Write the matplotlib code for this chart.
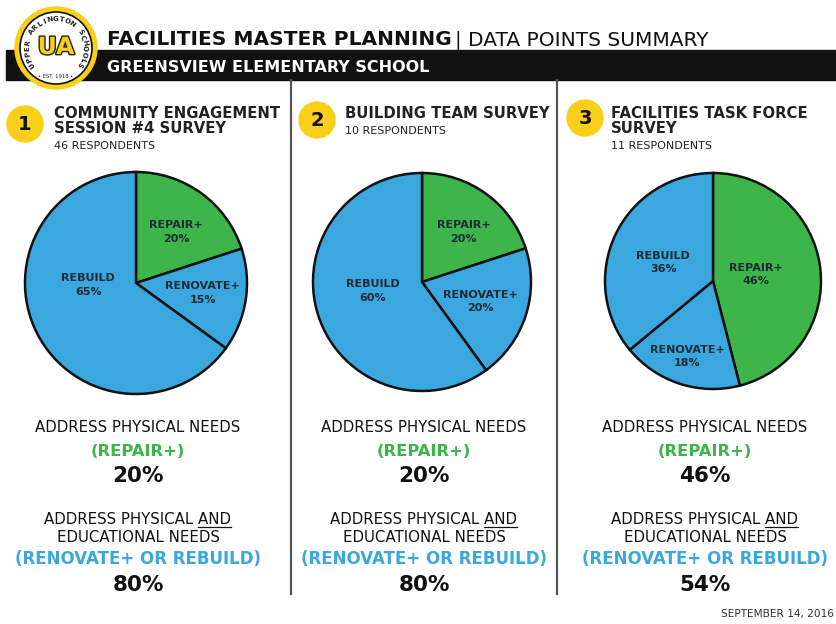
import numpy as np
import matplotlib
matplotlib.use("Agg")
import matplotlib.pyplot as plt
from matplotlib.patches import Circle, Rectangle
import matplotlib.patheffects as pe

##### Data #####
survey_titles = [["COMMUNITY ENGAGEMENT", "SESSION #4 SURVEY"],
                 ["BUILDING TEAM SURVEY"],
                 ["FACILITIES TASK FORCE", "SURVEY"]]
respondents = [46, 10, 11]
categories = ["REPAIR+", "RENOVATE+", "REBUILD"]
shares_1 = [20, 15, 65]
shares_2 = [20, 20, 60]
shares_3 = [46, 18, 36]
all_shares = [shares_1, shares_2, shares_3]
physical_pct = [20, 20, 46]
educational_pct = [80, 80, 54]

##### Layout (pixels of an 837x624 picture) #####
W, H = 837, 624
BLUE = "#3aa8de"
GREEN = "#3db54a"
YELLOW = "#f9cf1a"
NAVY = "#1f2937"
pie_centers = [(136, 283), (422, 282), (713, 281)]
pie_radius = [111, 109, 108]
# label spots inside each pie, in pie units (radius = 1)
label_spots = [[(0.36, 0.46), (0.60, -0.09), (-0.43, -0.02)],
               [(0.38, 0.46), (0.54, -0.18), (-0.45, -0.08)],
               [(0.40, 0.06), (-0.24, -0.70), (-0.46, 0.17)]]
col_centers = [138, 424, 705]
badge_centers = [(25, 124), (317, 120), (585, 118)]
head_x = [54, 345, 611]

plt.rcParams.update({'font.family': 'DejaVu Sans'})

fig = plt.figure(figsize=(W / 100, H / 100), dpi=100)
ax = fig.add_axes([0, 0, 1, 1])
ax.set_xlim(0, W)
ax.set_ylim(H, 0)
ax.axis('off')

# black banner + title
ax.add_patch(Rectangle((6, 50), W - 6, 30, color="#111111", zorder=1))
t_title = ax.text(107, 45, "FACILITIES MASTER PLANNING", fontsize=14.5, fontweight='bold',
                  color="#111111", va='baseline')
fig.canvas.draw()
renderer = fig.canvas.get_renderer()
inv = ax.transData.inverted()
bb = t_title.get_window_extent(renderer)
x_end = inv.transform((bb.x1, bb.y0))[0]
ax.text(x_end + 3, 45, "| DATA POINTS SUMMARY", fontsize=14.5, color="#111111", va='baseline')
ax.text(107, 72, "GREENSVIEW ELEMENTARY SCHOOL", fontsize=11.5, fontweight='bold',
        color="white", va='baseline', zorder=3)

# logo
lx, ly = 56, 48
ax.add_patch(Circle((lx, ly), 41, color=YELLOW, zorder=4))
ax.add_patch(Circle((lx, ly), 36, facecolor="white", edgecolor="#111111", lw=1.2, zorder=5))
ring_text = "UPPER ARLINGTON SCHOOLS"
angles = np.linspace(215, -35, len(ring_text))
for ch, a in zip(ring_text, angles):
    r = 29
    px = lx + r * np.cos(np.radians(a))
    py = ly - r * np.sin(np.radians(a))
    ax.text(px, py, ch, fontsize=5, fontweight='bold', color="#222222",
            rotation=a - 90, ha='center', va='center', zorder=6)
ax.text(lx, ly + 29, "• EST. 1918 •", fontsize=3.8, color="#222222",
        ha='center', va='center', zorder=6)
ax.text(lx, ly - 1, "UA", fontsize=17, fontweight='bold', color=YELLOW,
        ha='center', va='center', zorder=6,
        path_effects=[pe.withStroke(linewidth=2, foreground="#222222")])

# column dividers
for xd in [291, 557]:
    ax.plot([xd, xd], [80, 594], color="#555555", lw=1.6, zorder=1)

# survey headers
for i in range(3):
    bx, by = badge_centers[i]
    ax.add_patch(Circle((bx, by), 18, color=YELLOW, zorder=2))
    ax.text(bx, by + 1, str(i + 1), fontsize=14, fontweight='bold', color="#111111",
            ha='center', va='center', zorder=3)
    y = 118
    for line in survey_titles[i]:
        ax.text(head_x[i], y, line, fontsize=10.7, fontweight='bold', color="#222222",
                va='baseline')
        y += 15
    ax.text(head_x[i], y + 1, f"{respondents[i]} RESPONDENTS", fontsize=8,
            color="#222222", va='baseline')

# pies
for i in range(3):
    cx, cy = pie_centers[i]
    r = pie_radius[i]
    m = 1.05
    pax = fig.add_axes([(cx - m * r) / W, (H - cy - m * r) / H, 2 * m * r / W, 2 * m * r / H])
    pax.pie(all_shares[i], colors=[GREEN, BLUE, BLUE], startangle=90, counterclock=False,
            wedgeprops=dict(edgecolor="#111111", linewidth=1.8))
    pax.set_xlim(-m, m)
    pax.set_ylim(-m, m)
    pax.set_aspect('equal')
    pax.axis('off')
    for j, cat in enumerate(categories):
        sx, sy = label_spots[i][j]
        pax.text(sx, sy, f"{cat}\n{all_shares[i][j]}%", fontsize=8, fontweight='bold',
                 color=NAVY, ha='center', va='center', linespacing=1.45)

# summary text under each pie
for i in range(3):
    cx = col_centers[i]
    ax.text(cx, 432, "ADDRESS PHYSICAL NEEDS", fontsize=10.8, color="#111111",
            ha='center', va='baseline')
    ax.text(cx, 456, "(REPAIR+)", fontsize=11.8, fontweight='bold', color=GREEN,
            ha='center', va='baseline')
    ax.text(cx, 482, f"{physical_pct[i]}%", fontsize=15.5, fontweight='bold', color="#111111",
            ha='center', va='baseline')
    t_and = ax.text(cx, 524, "ADDRESS PHYSICAL AND", fontsize=10.8, color="#111111",
                    ha='center', va='baseline')
    ax.text(cx, 542, "EDUCATIONAL NEEDS", fontsize=10.8, color="#111111",
            ha='center', va='baseline')
    ax.text(cx, 564, "(RENOVATE+ OR REBUILD)", fontsize=12, fontweight='bold', color=BLUE,
            ha='center', va='baseline')
    ax.text(cx, 591, f"{educational_pct[i]}%", fontsize=15.5, fontweight='bold', color="#111111",
            ha='center', va='baseline')
    # underline the word AND
    fig.canvas.draw()
    bb = t_and.get_window_extent(renderer)
    tmp = ax.text(0, 0, "AND", fontsize=10.8)
    w_and = tmp.get_window_extent(renderer).width
    tmp.remove()
    x1 = inv.transform((bb.x1, 0))[0]
    x0 = inv.transform((bb.x1 - w_and, 0))[0]
    ax.plot([x0, x1], [526.5, 526.5], color="#111111", lw=0.9)

ax.text(W - 3, 617, "SEPTEMBER 14, 2016", fontsize=7.6, color="#333333",
        ha='right', va='baseline')

fig.savefig("out.png", dpi=100)
